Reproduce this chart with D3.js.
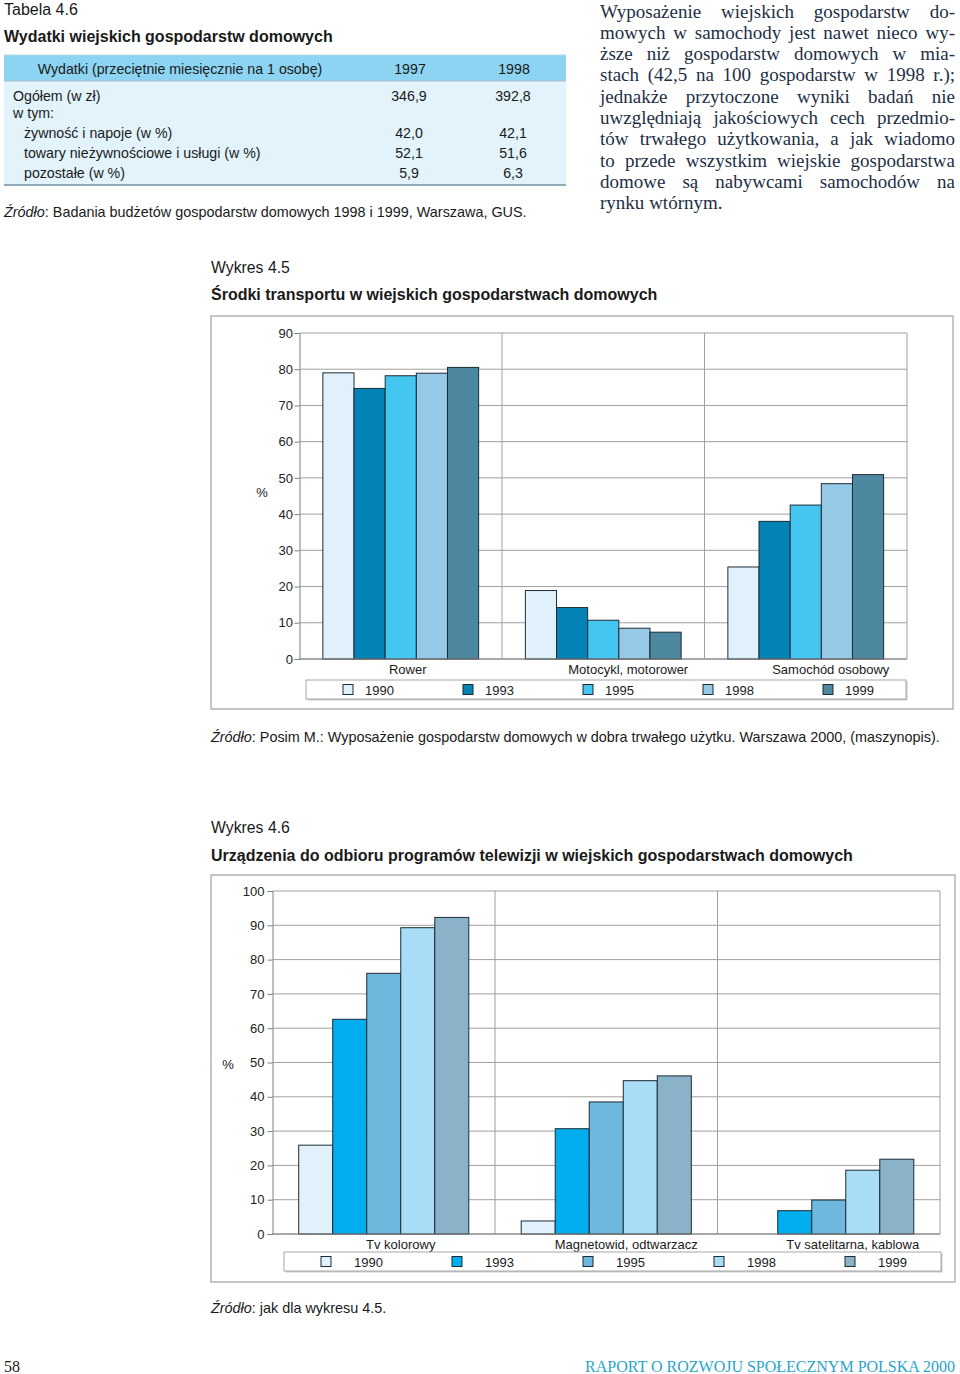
<!DOCTYPE html>
<html><head><meta charset="utf-8">
<script src="https://cdn.jsdelivr.net/npm/d3@7/dist/d3.min.js"></script>
<style>
body{margin:0;background:#fff;}
svg text{font-family:"Liberation Sans",Arial,sans-serif;fill:#1a1a1a;}
.serif{font-family:"Liberation Serif","Times New Roman",serif !important;}
</style></head>
<body><svg id="page" width="960" height="1374"></svg>
<script>
// ---------- data ----------
const tableHeader = ["Wydatki (przeciętnie miesięcznie na 1 osobę)", "1997", "1998"];
const tableRows = ["Ogółem (w zł)", "w tym:", "żywność i napoje (w %)", "towary nieżywnościowe i usługi (w %)", "pozostałe (w %)"];
const tableIndent = [0, 0, 1, 1, 1];
const values1997 = ["346,9", "", "42,0", "52,1", "5,9"];
const values1998 = ["392,8", "", "42,1", "51,6", "6,3"];

const paragraphLines = [
  "Wyposażenie wiejskich gospodarstw do-",
  "mowych w samochody jest nawet nieco wy-",
  "ższe niż gospodarstw domowych w mia-",
  "stach (42,5 na 100 gospodarstw w 1998 r.);",
  "jednakże przytoczone wyniki badań nie",
  "uwzględniają jakościowych cech przedmio-",
  "tów trwałego użytkowania, a jak wiadomo",
  "to przede wszystkim wiejskie gospodarstwa",
  "domowe są nabywcami samochodów na",
  "rynku wtórnym."
];

const years = ["1990", "1993", "1995", "1998", "1999"];

const transportCategories = ["Rower", "Motocykl, motorower", "Samochód osobowy"];
const transport1990 = [79.0, 18.9, 25.4];
const transport1993 = [74.7, 14.2, 38.0];
const transport1995 = [78.2, 10.7, 42.5];
const transport1998 = [78.9, 8.5, 48.4];
const transport1999 = [80.5, 7.4, 50.9];
const transportTicks = [0, 10, 20, 30, 40, 50, 60, 70, 80, 90];
const transportColors = ["#e1f1fb", "#0382b6", "#45c6f1", "#95c9e6", "#4e88a0"];

const tvCategories = ["Tv kolorowy", "Magnetowid, odtwarzacz", "Tv satelitarna, kablowa"];
const tv1990 = [25.9, 3.8, null];
const tv1993 = [62.6, 30.7, 6.8];
const tv1995 = [76.0, 38.5, 9.9];
const tv1998 = [89.3, 44.7, 18.6];
const tv1999 = [92.3, 46.1, 21.8];
const tvTicks = [0, 10, 20, 30, 40, 50, 60, 70, 80, 90, 100];
const tvColors = ["#e1f1fb", "#00adee", "#6db8dc", "#a9dcf6", "#8ab2c9"];

// ---------- page ----------
const svg = d3.select("#page");

// Table 4.6
svg.append("text").attr("x", 4).attr("y", 9.5).attr("dominant-baseline", "central")
  .style("font-size", "16px").text("Tabela 4.6");
svg.append("text").attr("x", 4).attr("y", 36).attr("dominant-baseline", "central")
  .style("font-size", "16px").style("font-weight", "bold").text("Wydatki wiejskich gospodarstw domowych");

svg.append("rect").attr("x", 4).attr("y", 55).attr("width", 562).attr("height", 26).attr("fill", "#8dd4f3");
svg.append("rect").attr("x", 4).attr("y", 81).attr("width", 562).attr("height", 104).attr("fill", "#e2f3fb");
svg.append("line").attr("x1", 4).attr("x2", 566).attr("y1", 55).attr("y2", 55).attr("stroke", "#b9d9e8").attr("stroke-width", 1);
svg.append("line").attr("x1", 4).attr("x2", 566).attr("y1", 81).attr("y2", 81).attr("stroke", "#a7bfcb").attr("stroke-width", 1);
svg.append("line").attr("x1", 4).attr("x2", 566).attr("y1", 185).attr("y2", 185).attr("stroke", "#93aab8").attr("stroke-width", 2);

const colX = [180, 410, 514];
tableHeader.forEach((h, i) => {
  svg.append("text").attr("x", colX[i]).attr("y", 69).attr("dominant-baseline", "central")
    .attr("text-anchor", "middle").style("font-size", "14.2px").text(h);
});
const rowY = [96, 113, 133, 153, 173];
tableRows.forEach((r, i) => {
  svg.append("text").attr("x", tableIndent[i] ? 24 : 13).attr("y", rowY[i]).attr("dominant-baseline", "central")
    .style("font-size", "14.2px").text(r);
  svg.append("text").attr("x", 409).attr("y", rowY[i]).attr("dominant-baseline", "central")
    .attr("text-anchor", "middle").style("font-size", "14.2px").text(values1997[i]);
  svg.append("text").attr("x", 513).attr("y", rowY[i]).attr("dominant-baseline", "central")
    .attr("text-anchor", "middle").style("font-size", "14.2px").text(values1998[i]);
});
function sourceLine(x, y, rest) {
  const t = svg.append("text").attr("x", x).attr("y", y).attr("dominant-baseline", "central").style("font-size", "14.4px");
  t.append("tspan").style("font-style", "italic").text("Źródło");
  t.append("tspan").text(rest);
}
sourceLine(4, 212, ": Badania budżetów gospodarstw  domowych 1998 i 1999, Warszawa, GUS.");

// Justified paragraph
const parX0 = 600, parX1 = 955, parY0 = 11, parLH = 21.3;
paragraphLines.forEach((line, li) => {
  const words = line.split(" ");
  const g = svg.append("g");
  const ts = words.map(w => g.append("text").attr("class", "serif").attr("y", parY0 + li * parLH)
    .attr("dominant-baseline", "central").style("font-size", "19px").style("fill", "#1e2f45").text(w));
  const widths = ts.map(t => t.node().getComputedTextLength());
  const total = d3.sum(widths);
  const last = li === paragraphLines.length - 1;
  const gap = last ? 4.8 : (parX1 - parX0 - total) / (words.length - 1);
  let x = parX0;
  ts.forEach((t, i) => { t.attr("x", x); x += widths[i] + gap; });
});

// ---------- grouped bar chart ----------
function barChart(cfg) {
  const { frame, plot, cats, series, colors, ticks, yMax, labelShift, labelY, legend, pctPos, barPad, tickPad } = cfg;
  svg.append("rect").attr("x", frame[0]).attr("y", frame[1]).attr("width", frame[2]).attr("height", frame[3])
    .attr("fill", "#fff").attr("stroke", "#b4b4b4").attr("stroke-width", 1.5);

  const x0 = d3.scaleBand().domain(cats).range([plot.x0, plot.x1]).paddingInner(0).paddingOuter(0);
  const x1 = d3.scaleBand().domain(years).range([0, x0.bandwidth()]).paddingInner(0).paddingOuter(barPad);
  const y = d3.scaleLinear().domain([0, yMax]).range([plot.y0, plot.y1]);

  const gg = svg.append("g");
  gg.selectAll(".hg").data(ticks).join("line")
    .attr("x1", plot.x0).attr("x2", plot.x1).attr("y1", d => y(d)).attr("y2", d => y(d))
    .attr("stroke", "#a0a0a0").attr("stroke-width", 1);
  gg.selectAll(".vg").data(cats.slice(1)).join("line")
    .attr("x1", d => x0(d)).attr("x2", d => x0(d)).attr("y1", y(yMax)).attr("y2", y(0))
    .attr("stroke", "#a0a0a0").attr("stroke-width", 1);
  gg.append("line").attr("x1", plot.x1).attr("x2", plot.x1).attr("y1", y(yMax)).attr("y2", y(0))
    .attr("stroke", "#a0a0a0").attr("stroke-width", 1);

  const ax = svg.append("g").attr("transform", `translate(${plot.x0},0)`)
    .call(d3.axisLeft(y).tickValues(ticks).tickSize(5).tickPadding(tickPad).tickFormat(d3.format("d")));
  ax.select(".domain").attr("stroke", "#808080");
  ax.selectAll(".tick line").attr("stroke", "#808080");
  ax.selectAll(".tick text").style("font-size", "13px").style("fill", "#222")
    .style("font-family", "'Liberation Sans',Arial,sans-serif");

  cats.forEach((c, ci) => {
    series.forEach((s, si) => {
      const v = s[ci];
      if (v === null || v === undefined) return;
      svg.append("rect").attr("x", x0(c) + x1(years[si])).attr("y", y(v))
        .attr("width", x1.bandwidth()).attr("height", y(0) - y(v))
        .attr("fill", colors[si]).attr("stroke", "#1d2b33").attr("stroke-width", 1);
    });
  });
  svg.append("line").attr("x1", plot.x0).attr("x2", plot.x1).attr("y1", y(0)).attr("y2", y(0))
    .attr("stroke", "#808080").attr("stroke-width", 1);

  cats.forEach((c, ci) => {
    svg.append("text").attr("x", x0(c) + x0.bandwidth() / 2 + labelShift[ci]).attr("y", labelY)
      .attr("dominant-baseline", "central").attr("text-anchor", "middle").style("font-size", "13px").text(c);
  });

  svg.append("text").attr("x", pctPos[0]).attr("y", pctPos[1]).attr("dominant-baseline", "central")
    .attr("text-anchor", "middle").style("font-size", "13px").text("%");

  svg.append("rect").attr("x", legend.x + 1.5).attr("y", legend.y + 1.5).attr("width", legend.w).attr("height", legend.h)
    .attr("fill", "#c8c8c8");
  svg.append("rect").attr("x", legend.x).attr("y", legend.y).attr("width", legend.w).attr("height", legend.h)
    .attr("fill", "#fff").attr("stroke", "#a8a8a8").attr("stroke-width", 1);
  years.forEach((yr, i) => {
    const sx = legend.x + legend.first + i * legend.step;
    svg.append("rect").attr("x", sx).attr("y", legend.y + legend.h / 2 - 5).attr("width", 10).attr("height", 10)
      .attr("fill", colors[i]).attr("stroke", "#1d2b33").attr("stroke-width", 1);
    svg.append("text").attr("x", sx + legend.textOff).attr("y", legend.y + legend.h / 2 + 0.5)
      .attr("dominant-baseline", "central").style("font-size", "13px").text(yr);
  });
}

// Wykres 4.5
svg.append("text").attr("x", 211).attr("y", 267).attr("dominant-baseline", "central").style("font-size", "15.8px").text("Wykres 4.5");
svg.append("text").attr("x", 211).attr("y", 294).attr("dominant-baseline", "central").style("font-size", "16px")
  .style("font-weight", "bold").text("Środki transportu w wiejskich gospodarstwach domowych");
barChart({
  frame: [211, 316, 742, 393],
  plot: { x0: 299.5, x1: 907, y0: 659, y1: 333 },
  cats: transportCategories,
  series: [transport1990, transport1993, transport1995, transport1998, transport1999],
  colors: transportColors, ticks: transportTicks, yMax: 90,
  labelShift: [7, 25, 25], labelY: 669,
  legend: { x: 306, y: 680, w: 600, h: 19, first: 37, step: 120, textOff: 22 },
  pctPos: [262, 492], barPad: 0.75, tickPad: 1.5
});
sourceLine(211, 737, ": Posim M.: Wyposażenie gospodarstw domowych w dobra trwałego użytku. Warszawa 2000, (maszynopis).");

// Wykres 4.6
svg.append("text").attr("x", 211).attr("y", 827).attr("dominant-baseline", "central").style("font-size", "15.8px").text("Wykres 4.6");
svg.append("text").attr("x", 211).attr("y", 855).attr("dominant-baseline", "central").style("font-size", "16px")
  .style("font-weight", "bold").text("Urządzenia do odbioru programów telewizji w wiejskich gospodarstwach domowych");
barChart({
  frame: [211, 875, 744, 407],
  plot: { x0: 272.5, x1: 940, y0: 1234, y1: 891 },
  cats: tvCategories,
  series: [tv1990, tv1993, tv1995, tv1998, tv1999],
  colors: tvColors, ticks: tvTicks, yMax: 100,
  labelShift: [17, 20, 24], labelY: 1244,
  legend: { x: 284, y: 1252, w: 657, h: 19, first: 37, step: 131, textOff: 33 },
  pctPos: [228, 1064], barPad: 0.77, tickPad: 3
});
sourceLine(211, 1308, ": jak dla wykresu 4.5.");

// footer
svg.append("text").attr("class", "serif").attr("x", 4).attr("y", 1366).attr("dominant-baseline", "central")
  .style("font-size", "16px").text("58");
svg.append("text").attr("class", "serif").attr("x", 955).attr("y", 1366).attr("dominant-baseline", "central")
  .attr("text-anchor", "end").style("font-size", "16px").style("fill", "#2aa4c9")
  .text("RAPORT O ROZWOJU SPOŁECZNYM POLSKA 2000");
</script></body></html>
